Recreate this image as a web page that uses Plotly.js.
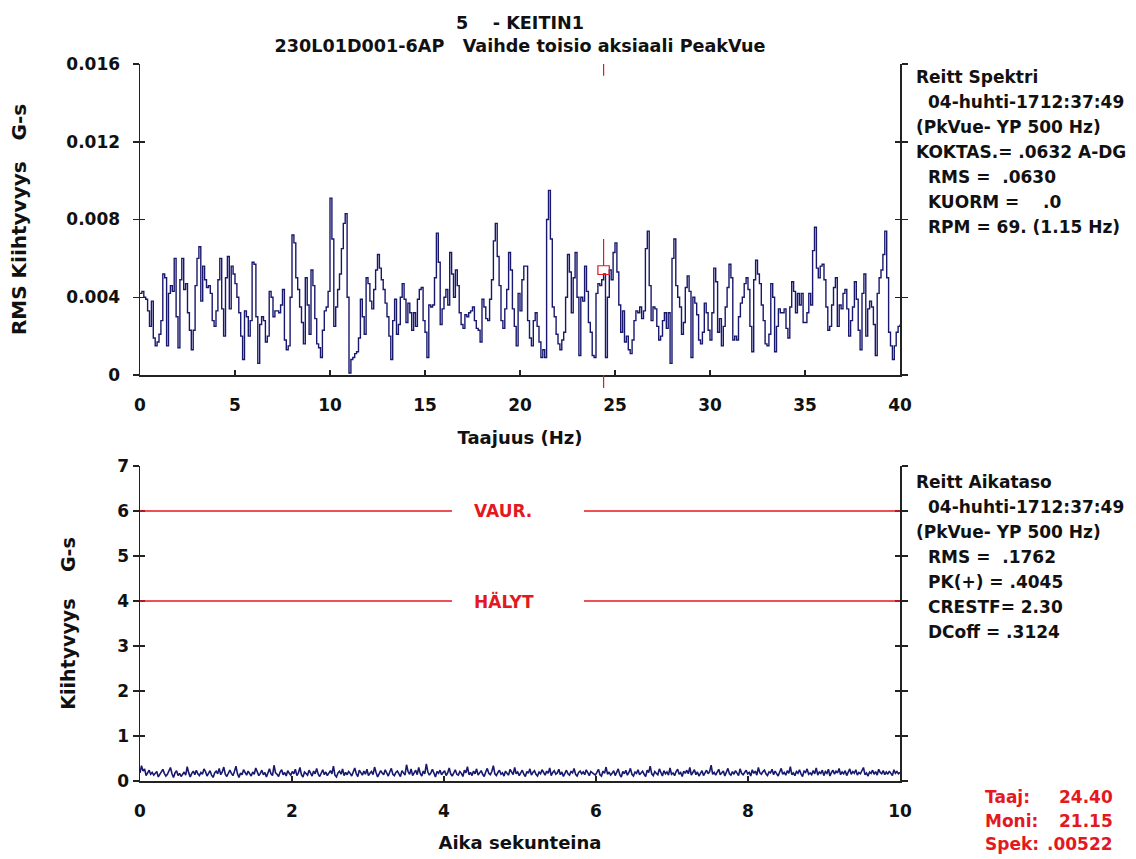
<!DOCTYPE html>
<html><head><meta charset="utf-8">
<script src="https://cdn.plot.ly/plotly-3.0.1.min.js"></script>
<style>html,body{margin:0;padding:0;background:#fff;}#chart{width:1136px;height:859px;}</style>
</head><body><div id="chart"></div>
<script>
// ---------- DATA ----------
const spectrumStepHz = 0.1;
const spectrumValues = [
.0042,.0043,.0040,.0039,.0033,.0025,.0038,.0019,.0015,.0017,
.0021,.0028,.0052,.0050,.0015,.0042,.0046,.0043,.0060,.0030,
.0014,.0049,.0060,.0044,.0047,.0032,.0023,.0013,.0023,.0046,
.0060,.0066,.0038,.0056,.0049,.0045,.0046,.0042,.0028,.0025,
.0033,.0049,.0060,.0034,.0020,.0050,.0061,.0034,.0056,.0052,
.0047,.0040,.0032,.0020,.0008,.0033,.0030,.0020,.0028,.0058,
.0057,.0030,.0006,.0026,.0030,.0028,.0017,.0020,.0043,.0040,
.0030,.0033,.0033,.0032,.0036,.0044,.0018,.0013,.0015,.0040,
.0072,.0068,.0050,.0044,.0035,.0027,.0016,.0050,.0036,.0021,
.0054,.0046,.0029,.0016,.0014,.0009,.0023,.0033,.0035,.0043,
.0091,.0070,.0025,.0035,.0044,.0052,.0065,.0078,.0083,.0040,
.0001,.0008,.0009,.0011,.0012,.0019,.0039,.0030,.0021,.0050,
.0047,.0038,.0034,.0044,.0054,.0062,.0055,.0049,.0044,.0037,
.0030,.0020,.0008,.0028,.0039,.0021,.0026,.0040,.0047,.0039,
.0027,.0037,.0032,.0023,.0032,.0025,.0039,.0044,.0045,.0028,
.0022,.0009,.0036,.0035,.0036,.0050,.0073,.0058,.0026,.0034,
.0040,.0044,.0036,.0063,.0052,.0040,.0054,.0046,.0032,.0026,
.0024,.0031,.0030,.0032,.0033,.0035,.0028,.0024,.0023,.0017,
.0039,.0035,.0029,.0028,.0039,.0049,.0069,.0078,.0061,.0046,
.0028,.0024,.0034,.0044,.0063,.0054,.0034,.0025,.0015,.0042,
.0033,.0049,.0056,.0056,.0028,.0019,.0015,.0028,.0032,.0025,
.0017,.0009,.0013,.0009,.0080,.0095,.0070,.0035,.0030,.0021,
.0016,.0013,.0018,.0022,.0040,.0062,.0053,.0032,.0050,.0063,
.0040,.0010,.0040,.0038,.0056,.0043,.0027,.0022,.0010,.0009,
.0042,.0047,.0046,.0049,.0052,.0009,.0040,.0054,.0049,.0063,
.0068,.0053,.0036,.0022,.0033,.0017,.0020,.0013,.0011,.0018,
.0028,.0033,.0032,.0035,.0029,.0033,.0065,.0074,.0046,.0028,
.0035,.0034,.0025,.0018,.0020,.0028,.0032,.0024,.0032,.0006,
.0060,.0070,.0046,.0040,.0035,.0021,.0027,.0045,.0051,.0043,
.0009,.0040,.0037,.0031,.0018,.0016,.0022,.0037,.0032,.0023,
.0018,.0032,.0055,.0048,.0022,.0029,.0015,.0025,.0035,.0045,
.0057,.0050,.0018,.0020,.0018,.0030,.0037,.0040,.0047,.0050,
.0044,.0025,.0012,.0049,.0059,.0052,.0047,.0036,.0028,.0016,
.0015,.0021,.0047,.0040,.0012,.0025,.0034,.0032,.0032,.0034,
.0024,.0019,.0035,.0048,.0043,.0032,.0042,.0036,.0042,.0027,
.0027,.0032,.0042,.0036,.0064,.0076,.0055,.0050,.0056,.0057,
.0049,.0035,.0023,.0025,.0036,.0045,.0050,.0025,.0036,.0034,
.0042,.0044,.0034,.0020,.0028,.0035,.0048,.0039,.0023,.0013,
.0042,.0052,.0020,.0034,.0038,.0035,.0026,.0010,.0042,.0050,
.0054,.0062,.0074,.0050,.0022,.0015,.0008,.0015,.0022,.0025,
.0026
];
const spectrumFreq = spectrumValues.map((v, i) => +(i * spectrumStepHz).toFixed(2));

const waveDurationS = 10;
const waveValues = [
.18,.34,.22,.27,.12,.20,.24,.15,.19,.13,
.16,.21,.09,.14,.19,.26,.17,.11,.15,.22,
.30,.16,.08,.18,.23,.12,.17,.10,.15,.20,
.13,.32,.18,.09,.17,.22,.14,.24,.16,.12,
.19,.15,.27,.21,.11,.17,.23,.13,.08,.18,
.22,.16,.28,.14,.20,.31,.15,.10,.19,.24,
.17,.12,.21,.33,.16,.08,.18,.14,.25,.19,
.13,.22,.16,.11,.20,.15,.29,.18,.12,.17,
.24,.14,.19,.09,.21,.27,.16,.12,.35,.18,
.15,.10,.20,.25,.14,.19,.11,.23,.17,.13,
.21,.16,.26,.12,.18,.30,.14,.09,.20,.17,
.13,.24,.18,.11,.22,.16,.28,.15,.10,.19,
.25,.14,.20,.12,.17,.23,.16,.33,.13,.09,
.18,.22,.15,.27,.12,.19,.14,.21,.17,.11,
.20,.29,.16,.10,.24,.18,.13,.22,.15,.26,
.12,.17,.21,.14,.31,.19,.09,.16,.23,.18,
.14,.25,.17,.11,.20,.28,.15,.12,.19,.22,
.16,.10,.23,.18,.13,.36,.21,.15,.27,.12,
.19,.24,.14,.30,.17,.11,.22,.16,.38,.20,
.13,.18,.26,.15,.09,.21,.17,.24,.14,.19,
.23,.12,.18,.29,.16,.11,.20,.25,.15,.13,
.21,.17,.10,.24,.18,.32,.14,.19,.12,.22,
.16,.27,.13,.19,.23,.15,.10,.20,.28,.17,
.14,.21,.34,.16,.12,.19,.24,.15,.18,.11,
.22,.17,.13,.26,.19,.14,.30,.16,.20,.12,
.18,.24,.15,.10,.21,.17,.27,.13,.19,.23,
.15,.11,.20,.16,.25,.18,.13,.22,.17,.29,
.12,.19,.23,.15,.18,.26,.14,.20,.10,.17,
.24,.16,.13,.21,.18,.28,.15,.11,.19,.22,
.16,.20,.14,.25,.17,.12,.21,.18,.15,.13,
.19,.26,.14,.11,.22,.17,.31,.15,.20,.13,
.17,.23,.12,.18,.27,.14,.09,.21,.16,.24,
.13,.19,.28,.15,.11,.20,.17,.25,.14,.18,
.22,.15,.10,.24,.19,.33,.16,.12,.21,.17,
.14,.27,.18,.11,.23,.16,.20,.13,.29,.15,
.18,.12,.21,.26,.15,.19,.10,.22,.17,.24,
.16,.30,.13,.18,.25,.14,.20,.11,.19,.23,
.12,.18,.24,.16,.21,.35,.15,.19,.13,.20,
.26,.14,.17,.22,.11,.19,.28,.16,.13,.21,
.15,.23,.18,.12,.27,.17,.14,.20,.24,.16,
.19,.11,.25,.17,.22,.13,.30,.18,.15,.21,
.24,.16,.12,.20,.18,.26,.14,.22,.17,.11,
.20,.28,.15,.19,.13,.23,.17,.32,.14,.18,
.12,.21,.17,.25,.16,.10,.22,.19,.27,.15,
.18,.14,.23,.16,.29,.13,.20,.17,.24,.12,
.21,.17,.26,.11,.19,.24,.15,.22,.18,.28,
.14,.20,.16,.23,.12,.18,.27,.15,.21,.17,
.25,.13,.19,.16,.22,.30,.14,.18,.11,.20,
.17,.24,.15,.21,.13,.26,.19,.16,.23,.14,
.20,.15,.22,.18,.12,.25,.17,.21,.16,.19
];
const waveTime = waveValues.map((v, i) => i * waveDurationS / (waveValues.length - 1));

const alarmLevels = [6, 4];
const alarmLabels = ['VAUR.', 'HÄLYT'];

const spekTickVals = [0, 0.004, 0.008, 0.012, 0.016];
const spekTickText = ['0', '0.004', '0.008', '0.012', '0.016'];
const freqTickVals = [0, 5, 10, 15, 20, 25, 30, 35, 40];
const timeTickVals = [0, 2, 4, 6, 8, 10];
const ampTickVals = [0, 1, 2, 3, 4, 5, 6, 7];

const cursorHz = 24.40;
const cursorSpek = 0.00522;

const NB = '\u00a0';
const titleLines = ['5' + NB.repeat(4) + '- KEITIN1', '230L01D001-6AP' + NB.repeat(3) + 'Vaihde toisio aksiaali PeakVue'];
const spectrumInfo = [
  ['Reitt Spektri', 0],
  ['04-huhti-1712:37:49', 1],
  ['(PkVue- YP 500 Hz)', 0],
  ['KOKTAS.= .0632 A-DG', 0],
  ['RMS =' + NB + NB + '.0630', 1],
  ['KUORM =' + NB.repeat(4) + '.0', 1],
  ['RPM = 69. (1.15 Hz)', 1]
];
const waveInfo = [
  ['Reitt Aikataso', 0],
  ['04-huhti-1712:37:49', 1],
  ['(PkVue- YP 500 Hz)', 0],
  ['RMS =' + NB + NB + '.1762', 1],
  ['PK(+) = .4045', 1],
  ['CRESTF= 2.30', 1],
  ['DCoff = .3124', 1]
];
const cursorInfoLabels = ['Taaj:', 'Moni:', 'Spek:'];
const cursorInfoValues = ['24.40', '21.15', '.00522'];

// ---------- STYLE / LAYOUT ----------
const FONT = 'DejaVu Sans, Verdana, sans-serif';
const f = (size, color) => ({family: FONT, size: size, color: color || '#111', weight: 700});
const NAVY = '#18186f';
const RED = '#e3191f';
const AX = '#222';

const W = 1136, H = 859;
const M = {l: 140, r: 236, t: 64, b: 78};
const plotW = W - M.l - M.r, plotH = H - M.t - M.b;
const px2x = px => (px - M.l) / plotW;
const py2y = py => (H - M.b - py) / plotH;

const topDomain = [py2y(375), 1];
const botDomain = [0, py2y(466)];

function baseX(range, ticks, anchor) {
  return {anchor: anchor, range: range, tickvals: ticks, ticks: 'inside', ticklen: 5, tickwidth: 1.5,
    tickcolor: AX, showline: true, linecolor: AX, linewidth: 1.5, showgrid: false, zeroline: false,
    tickfont: f(17), ticklabelstandoff: 14, fixedrange: true};
}
function baseY(range, vals, text, anchor, domain) {
  return {anchor: anchor, domain: domain, range: range, tickvals: vals, ticktext: text, ticks: 'outside',
    ticklen: 6, tickwidth: 1.5, tickcolor: AX, mirror: 'ticks', showline: true, linecolor: AX, linewidth: 1.5,
    showgrid: false, zeroline: false, tickfont: f(17), fixedrange: true};
}
function overlayY(range, vals, over, anchor) {
  return {overlaying: over, anchor: anchor, range: range, tickvals: vals, ticks: 'inside', ticklen: 5,
    tickwidth: 1.5, tickcolor: AX, mirror: 'ticks', showline: false, showticklabels: false,
    showgrid: false, zeroline: false, fixedrange: true};
}

const xaxis = baseX([0, 40], freqTickVals, 'y');
xaxis.title = {text: 'Taajuus (Hz)', font: f(18), standoff: 17};
const yaxis = baseY([0, 0.016], spekTickVals, spekTickText, 'x', topDomain);
yaxis.ticklabelstandoff = 9;
yaxis.title = {text: 'RMS Kiihtyvyys' + NB.repeat(3) + 'G-s' + NB.repeat(2), font: f(20), standoff: 34};
const xaxis2 = baseX([0, 10], timeTickVals, 'y2');
xaxis2.title = {text: 'Aika sekunteina', font: f(18), standoff: 16};
const yaxis2 = baseY([0, 7], ampTickVals, ampTickVals.map(String), 'x2', botDomain);
yaxis2.ticklabelstandoff = 0;
yaxis2.title = {text: NB.repeat(4) + 'Kiihtyvyys' + NB.repeat(4) + 'G-s', font: f(19), standoff: 36};

const shapes = [];
// alarm lines with a gap for the label
const gapX0 = (452 - M.l) / plotW * 10, gapX1 = (584 - M.l) / plotW * 10;
alarmLevels.forEach(lv => {
  shapes.push({type: 'line', xref: 'x2', yref: 'y2', x0: 0, x1: gapX0, y0: lv, y1: lv, line: {color: RED, width: 1.5}});
  shapes.push({type: 'line', xref: 'x2', yref: 'y2', x0: gapX1, x1: 10, y0: lv, y1: lv, line: {color: RED, width: 1.5}});
});
// cursor marks on spectrum
shapes.push({type: 'line', xref: 'x', yref: 'y', x0: cursorHz, x1: cursorHz, y0: 0.0154, y1: 0.016, line: {color: RED, width: 1.2}});
shapes.push({type: 'line', xref: 'x', yref: 'y', x0: cursorHz, x1: cursorHz, y0: cursorSpek + 0.0004, y1: 0.0070, line: {color: RED, width: 1.2}});
shapes.push({type: 'rect', xref: 'x', yref: 'y', x0: cursorHz - 0.3, x1: cursorHz + 0.3, y0: cursorSpek - 0.00005, y1: cursorSpek + 0.0004, line: {color: RED, width: 1.2}});
shapes.push({type: 'line', xref: 'paper', yref: 'paper', x0: cursorHz / 40, x1: cursorHz / 40, y0: py2y(375), y1: py2y(388), line: {color: RED, width: 1.2}});

const annotations = [];
alarmLevels.forEach((lv, k) => {
  annotations.push({xref: 'x2', yref: 'y2', x: (472 - M.l) / plotW * 10, y: lv, xanchor: 'left', yanchor: 'middle',
    text: alarmLabels[k], showarrow: false, font: f(17, RED)});
});
spectrumInfo.forEach((row, k) => {
  annotations.push({xref: 'paper', yref: 'paper', x: px2x(row[1] ? 926 : 914), y: py2y(77 + k * 25),
    xanchor: 'left', yanchor: 'middle', text: row[0], showarrow: false, font: f(17)});
});
waveInfo.forEach((row, k) => {
  annotations.push({xref: 'paper', yref: 'paper', x: px2x(row[1] ? 926 : 914), y: py2y(482 + k * 25),
    xanchor: 'left', yanchor: 'middle', text: row[0], showarrow: false, font: f(17)});
});
cursorInfoLabels.forEach((lab, k) => {
  annotations.push({xref: 'paper', yref: 'paper', x: px2x(983), y: py2y(797 + k * 23.5),
    xanchor: 'left', yanchor: 'middle', text: lab, showarrow: false, font: f(17, RED)});
  annotations.push({xref: 'paper', yref: 'paper', x: px2x(1115), y: py2y(797 + k * 23.5),
    xanchor: 'right', yanchor: 'middle', text: cursorInfoValues[k], showarrow: false, font: f(17, RED)});
});

const layout = {
  width: W, height: H, margin: M, paper_bgcolor: '#fff', plot_bgcolor: '#fff', showlegend: false,
  title: {text: titleLines.join('<br>'), x: 0.5, xref: 'paper', xanchor: 'center', y: 1 - 29 / H, yref: 'container', yanchor: 'top', font: f(17.6)},
  xaxis: xaxis, yaxis: yaxis,
  yaxis3: overlayY([0, 0.016], spekTickVals, 'y', 'x'),
  xaxis2: xaxis2, yaxis2: yaxis2,
  yaxis4: overlayY([0, 7], ampTickVals, 'y2', 'x2'),
  shapes: shapes, annotations: annotations
};

const traces = [
  {type: 'scatter', mode: 'lines', x: spectrumFreq, y: spectrumValues, xaxis: 'x', yaxis: 'y',
   line: {color: NAVY, width: 1.4, shape: 'hv'}, hoverinfo: 'skip', name: 'Spektri'},
  {type: 'scatter', mode: 'lines', x: [], y: [], xaxis: 'x', yaxis: 'y3', hoverinfo: 'skip'},
  {type: 'scatter', mode: 'lines', x: waveTime, y: waveValues, xaxis: 'x2', yaxis: 'y2',
   line: {color: NAVY, width: 1.6}, hoverinfo: 'skip', name: 'Aikataso'},
  {type: 'scatter', mode: 'lines', x: [], y: [], xaxis: 'x2', yaxis: 'y4', hoverinfo: 'skip'}
];

Plotly.newPlot('chart', traces, layout, {displayModeBar: false, staticPlot: true});
</script>
</body></html>
